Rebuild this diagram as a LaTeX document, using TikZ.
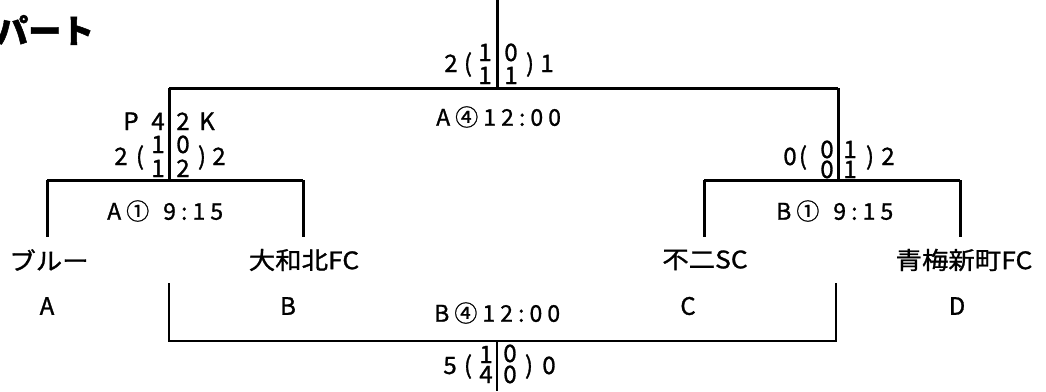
\documentclass[tikz,border=0pt]{standalone}
\usepackage{fontspec}
\newfontfamily\jp{Noto Sans CJK JP}[FakeStretch=1.1,FakeBold=1.2]
\newfontfamily\jpt{Noto Sans CJK JP}[LetterSpace=22,FakeBold=1.0]
\newfontfamily\jpd{Noto Sans CJK JP}[FakeBold=1.2]
\newfontfamily\jpb{Noto Sans CJK JP}[FakeBold=1.5]
\begin{document}
\begin{tikzpicture}[x=1pt,y=1pt,
  thick line/.style={line width=3pt},
  thin line/.style={line width=1.2pt},
  team/.style={font=\jp\fontsize{24}{26}\selectfont, inner sep=0pt},
  grp/.style={font=\jpd\fontsize{24}{26}\selectfont, inner sep=0pt},
  tm/.style={font=\jpt\fontsize{23}{25}\selectfont, inner sep=0pt},
  dg/.style={font=\jpd\fontsize{24}{26}\selectfont, inner sep=0pt, text height=16pt, text depth=0pt},
  title/.style={font=\jpb\bfseries\fontsize{33}{35}\selectfont, inner sep=0pt}]
\useasboundingbox (0,0) rectangle (1046,-391);
% coordinates of the bracket
\coordinate (top) at (497,0);
\coordinate (fin) at (497,-88);
\coordinate (fl) at (169,-88);
\coordinate (fr) at (838,-88);
\coordinate (sl) at (169,-180);
\coordinate (sr) at (838,-180);
\coordinate (la) at (47,-180);
\coordinate (lb) at (303,-180);
\coordinate (rc) at (704,-180);
\coordinate (rd) at (960,-180);
\coordinate (tb1) at (169,-283);
\coordinate (tb2) at (169,-341);
\coordinate (tb3) at (836,-341);
\coordinate (tb4) at (836,-283);
\coordinate (tbm) at (497,-341);
\coordinate (tbe) at (497,-391);
% title
\node[title, anchor=west] (ttl) at (-5,-30) {パート};
% teams
\node[team] (ta) at (49,-260) {ブルー};
\node[team] (tb) at (304,-260) {大和北FC};
\node[team] (tc) at (705,-260) {不二SC};
\node[team] (td) at (964,-260) {青梅新町FC};
\node[grp] (ga) at (47,-306) {A};
\node[grp] (gb) at (288,-306) {B};
\node[grp] (gc) at (688,-306) {C};
\node[grp] (gd) at (957,-306) {D};
% bracket lines
\draw[thick line] (top) -- (fin);
\draw[thick line] (fl) -- (fr);
\draw[thick line] (fl) -- (sl);
\draw[thick line] (fr) -- (sr);
\draw[thick line] (la) -- (la |- 0,-237);
\draw[thick line] (lb) -- (lb |- 0,-237);
\draw[thick line] (rc) -- (rc |- 0,-237);
\draw[thick line] (rd) -- (rd |- 0,-237);
\draw[thick line] (la) -- (lb);
\draw[thick line] (rc) -- (rd);
\draw[thin line] (tb1) -- (tb2) -- (tb3) -- (tb4);
\draw[thin line] (tbm) -- (tbe);
% times
\node[tm, anchor=west] (t1) at (107,-211) {A①\hspace{14pt}9:15};
\node[tm, anchor=west] (t2) at (776,-211) {B①\hspace{14pt}9:15};
\node[tm, anchor=west] (t3) at (436,-117) {A④12:00};
\node[tm, anchor=west] (t4) at (434,-313) {B④12:00};
% final score
\node[dg] (f1) at (451,-64) {2};
\node[dg] (f2) at (468,-64) {(};
\node[dg] (f3) at (485,-53) {1};
\node[dg] (f4) at (485,-76) {1};
\node[dg] (f5) at (511,-53) {0};
\node[dg] (f6) at (511,-76) {1};
\node[dg] (f7) at (530,-64) {)};
\node[dg] (f8) at (547,-64) {1};
% left semi score
\node[dg] (p1) at (131,-122) {P};
\node[dg] (p2) at (158,-122) {4};
\node[dg] (p3) at (183,-122) {2};
\node[dg] (p4) at (207,-122) {K};
\node[dg] (l1) at (121,-157) {2};
\node[dg] (l2) at (140,-157) {(};
\node[dg] (l3) at (158,-145) {1};
\node[dg] (l4) at (158,-169) {1};
\node[dg] (l5) at (183,-145) {0};
\node[dg] (l6) at (183,-169) {2};
\node[dg] (l7) at (202,-157) {)};
\node[dg] (l8) at (219,-157) {2};
% right semi score
\node[dg] (r1) at (790,-157) {0};
\node[dg] (r2) at (803,-157) {(};
\node[dg] (r3) at (827,-150) {0};
\node[dg] (r4) at (827,-170) {0};
\node[dg] (r5) at (850,-150) {1};
\node[dg] (r6) at (850,-170) {1};
\node[dg] (r7) at (870,-157) {)};
\node[dg] (r8) at (888,-157) {2};
% third place score
\node[dg] (b1) at (450,-366) {5};
\node[dg] (b2) at (468,-366) {(};
\node[dg] (b3) at (486,-355) {1};
\node[dg] (b4) at (486,-375) {4};
\node[dg] (b5) at (510,-354) {0};
\node[dg] (b6) at (510,-375) {0};
\node[dg] (b7) at (529,-366) {)};
\node[dg] (b8) at (549,-366) {0};
\end{tikzpicture}
\end{document}
